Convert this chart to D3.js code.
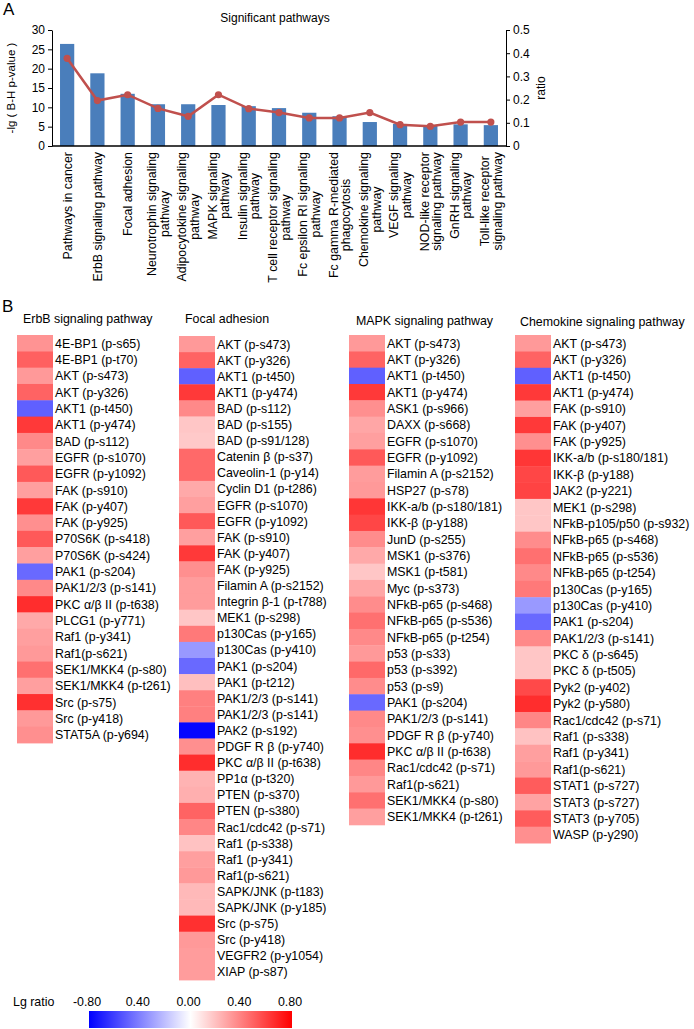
<!DOCTYPE html>
<html><head><meta charset="utf-8">
<script src="https://cdn.jsdelivr.net/npm/d3@7"></script>
<style>
body{margin:0;background:#fff}
svg{display:block}
text{font-family:"Liberation Sans",Arial,sans-serif;fill:#000}
</style>
</head><body>
<svg id="chart" width="694" height="1029"></svg>
<script>
// ---------- Panel A data ----------
const pathwayLabels = [
  ["Pathways in cancer"],
  ["ErbB signaling pathway"],
  ["Focal adhesion"],
  ["Neurotrophin signaling","pathway"],
  ["Adipocytokine signaling","pathway"],
  ["MAPK signaling","pathway"],
  ["Insulin signaling","pathway"],
  ["T cell receptor signaling","pathway"],
  ["Fc epsilon RI signaling","pathway"],
  ["Fc gamma R-mediated","phagocytosis"],
  ["Chemokine signaling","pathway"],
  ["VEGF signaling","pathway"],
  ["NOD-like receptor","signaling pathway"],
  ["GnRH signaling","pathway"],
  ["Toll-like receptor","signaling pathway"]
];
const negLogP = [26.4, 18.8, 13.5, 10.8, 10.8, 10.6, 10.3, 9.8, 8.6, 7.7, 6.2, 5.7, 5.3, 5.6, 5.4];
const ratios  = [0.378, 0.196, 0.221, 0.162, 0.128, 0.221, 0.161, 0.144, 0.121, 0.121, 0.144, 0.092, 0.085, 0.103, 0.103];
const leftTicks  = [0, 5, 10, 15, 20, 25, 30];
const rightTicks = [0, 0.1, 0.2, 0.3, 0.4, 0.5];

// ---------- Panel B data ----------
const erbbGenes = ["4E-BP1 (p-s65)","4E-BP1 (p-t70)","AKT (p-s473)","AKT (p-y326)","AKT1 (p-t450)","AKT1 (p-y474)","BAD (p-s112)","EGFR (p-s1070)","EGFR (p-y1092)","FAK (p-s910)","FAK (p-y407)","FAK (p-y925)","P70S6K (p-s418)","P70S6K (p-s424)","PAK1 (p-s204)","PAK1/2/3 (p-s141)","PKC α/β II (p-t638)","PLCG1 (p-y771)","Raf1 (p-y341)","Raf1(p-s621)","SEK1/MKK4 (p-s80)","SEK1/MKK4 (p-t261)","Src (p-s75)","Src (p-y418)","STAT5A (p-y694)"];
const erbbValues = [0.34,0.50,0.32,0.49,-0.50,0.62,0.37,0.30,0.52,0.30,0.62,0.35,0.52,0.30,-0.47,0.37,0.66,0.27,0.30,0.32,0.45,0.30,0.65,0.32,0.35];

const focalGenes = ["AKT (p-s473)","AKT (p-y326)","AKT1 (p-t450)","AKT1 (p-y474)","BAD (p-s112)","BAD (p-s155)","BAD (p-s91/128)","Catenin β (p-s37)","Caveolin-1 (p-y14)","Cyclin D1 (p-t286)","EGFR (p-s1070)","EGFR (p-y1092)","FAK (p-s910)","FAK (p-y407)","FAK (p-y925)","Filamin A (p-s2152)","Integrin β-1 (p-t788)","MEK1 (p-s298)","p130Cas (p-y165)","p130Cas (p-y410)","PAK1 (p-s204)","PAK1 (p-t212)","PAK1/2/3 (p-s141)","PAK1/2/3 (p-s141)","PAK2 (p-s192)","PDGF R β (p-y740)","PKC α/β II (p-t638)","PP1α (p-t320)","PTEN (p-s370)","PTEN (p-s380)","Rac1/cdc42 (p-s71)","Raf1 (p-s338)","Raf1 (p-y341)","Raf1(p-s621)","SAPK/JNK (p-t183)","SAPK/JNK (p-y185)","Src (p-s75)","Src (p-y418)","VEGFR2 (p-y1054)","XIAP (p-s87)"];
const focalValues = [0.32,0.49,-0.50,0.62,0.37,0.18,0.17,0.47,0.47,0.27,0.30,0.52,0.30,0.62,0.35,0.31,0.31,0.18,0.42,-0.32,-0.47,0.20,0.40,0.40,-0.78,0.35,0.66,0.24,0.25,0.49,0.38,0.19,0.30,0.32,0.22,0.22,0.65,0.32,0.31,0.31];

const mapkGenes = ["AKT (p-s473)","AKT (p-y326)","AKT1 (p-t450)","AKT1 (p-y474)","ASK1 (p-s966)","DAXX (p-s668)","EGFR (p-s1070)","EGFR (p-y1092)","Filamin A (p-s2152)","HSP27 (p-s78)","IKK-a/b (p-s180/181)","IKK-β (p-y188)","JunD (p-s255)","MSK1 (p-s376)","MSK1 (p-t581)","Myc (p-s373)","NFkB-p65 (p-s468)","NFkB-p65 (p-s536)","NFkB-p65 (p-t254)","p53 (p-s33)","p53 (p-s392)","p53 (p-s9)","PAK1 (p-s204)","PAK1/2/3 (p-s141)","PDGF R β (p-y740)","PKC α/β II (p-t638)","Rac1/cdc42 (p-s71)","Raf1(p-s621)","SEK1/MKK4 (p-s80)","SEK1/MKK4 (p-t261)"];
const mapkValues = [0.32,0.49,-0.50,0.62,0.35,0.28,0.30,0.52,0.31,0.32,0.63,0.58,0.36,0.27,0.18,0.28,0.36,0.45,0.37,0.32,0.47,0.36,-0.47,0.37,0.35,0.66,0.38,0.32,0.45,0.30];

const chemoGenes = ["AKT (p-s473)","AKT (p-y326)","AKT1 (p-t450)","AKT1 (p-y474)","FAK (p-s910)","FAK (p-y407)","FAK (p-y925)","IKK-a/b (p-s180/181)","IKK-β (p-y188)","JAK2 (p-y221)","MEK1 (p-s298)","NFkB-p105/p50 (p-s932)","NFkB-p65 (p-s468)","NFkB-p65 (p-s536)","NFkB-p65 (p-t254)","p130Cas (p-y165)","p130Cas (p-y410)","PAK1 (p-s204)","PAK1/2/3 (p-s141)","PKC δ (p-s645)","PKC δ (p-t505)","Pyk2 (p-y402)","Pyk2 (p-y580)","Rac1/cdc42 (p-s71)","Raf1 (p-s338)","Raf1 (p-y341)","Raf1(p-s621)","STAT1 (p-s727)","STAT3 (p-s727)","STAT3 (p-y705)","WASP (p-y290)"];
const chemoValues = [0.32,0.49,-0.50,0.62,0.30,0.62,0.35,0.63,0.58,0.59,0.18,0.18,0.36,0.45,0.37,0.42,-0.32,-0.47,0.37,0.18,0.18,0.57,0.66,0.38,0.19,0.30,0.32,0.51,0.29,0.51,0.35];

const legendTicks = [-0.8, -0.4, 0, 0.4, 0.8];
const legendTickLabels = ["-0.80","0.40","0.00","0.40","0.80"];

// ---------- Drawing ----------
const svg = d3.select("#chart");
const FONT = 12.4;

// Panel A
const pA = {left:52, right:506, top:30, bottom:146};
const x = d3.scaleBand().domain(d3.range(pathwayLabels.length))
  .range([pA.left, pA.right]).paddingInner(0.53).paddingOuter(0.265);
const yL = d3.scaleLinear().domain([0,30]).range([pA.bottom, pA.top]);
const yR = d3.scaleLinear().domain([0,0.5]).range([pA.bottom, pA.top]);

svg.append("text").attr("x",3).attr("y",15).style("font-size","17px").text("A");
svg.append("text").attr("x",(pA.left+pA.right)/2 - 4).attr("y",22)
  .attr("text-anchor","middle").style("font-size","12px").text("Significant pathways");

const gA = svg.append("g");
gA.selectAll("rect.bar").data(negLogP).join("rect")
  .attr("class","bar")
  .attr("x",(d,i)=>x(i)).attr("width",x.bandwidth())
  .attr("y",d=>yL(d)).attr("height",d=>yL(0)-yL(d))
  .attr("fill","#4a7ebb");

const axL = gA.append("g").attr("transform",`translate(${pA.left},0)`)
  .call(d3.axisLeft(yL).tickValues(leftTicks).tickSize(4).tickSizeOuter(0).tickFormat(d3.format("d")));
const axR = gA.append("g").attr("transform",`translate(${pA.right},0)`)
  .call(d3.axisRight(yR).tickValues(rightTicks).tickSize(4).tickSizeOuter(0)
    .tickFormat(d=> d===0 ? "0" : d3.format(".1f")(d)));
[axL, axR].forEach(a=>{
  a.selectAll("text").style("font-size","12px").style("font-family",'"Liberation Sans",Arial,sans-serif');
  a.selectAll("line,path").attr("stroke","#000");
});
gA.append("line").attr("x1",pA.left).attr("x2",pA.right).attr("y1",pA.bottom).attr("y2",pA.bottom)
  .attr("stroke","#000").attr("stroke-width",1.5);

const line = d3.line().x((d,i)=>x(i)+x.bandwidth()/2).y(d=>yR(d));
gA.append("path").datum(ratios).attr("d",line)
  .attr("fill","none").attr("stroke","#c0504d").attr("stroke-width",2.5);
gA.selectAll("circle.pt").data(ratios).join("circle").attr("class","pt")
  .attr("cx",(d,i)=>x(i)+x.bandwidth()/2).attr("cy",d=>yR(d)).attr("r",3.6)
  .attr("fill","#c0504d");

svg.append("text").attr("transform",`translate(15,${(pA.top+pA.bottom)/2}) rotate(-90)`)
  .attr("text-anchor","middle").style("font-size","11.5px").text("-lg ( B-H p-value )");
svg.append("text").attr("transform",`translate(545,${(pA.top+pA.bottom)/2}) rotate(-90)`)
  .attr("text-anchor","middle").style("font-size","12px").text("ratio");

// category labels (rotated, block end-aligned at axis, lines centered)
const labelTop = pA.bottom + 6;
const lineGap = 12.5;
pathwayLabels.forEach((lines,i)=>{
  const cx = x(i) + x.bandwidth()/2;
  const g = svg.append("g").attr("transform",`translate(${cx},${labelTop}) rotate(-90)`);
  const ts = lines.map((t,j)=> g.append("text").style("font-size",FONT+"px").text(t));
  const widths = ts.map(t=>t.node().getComputedTextLength());
  const L = d3.max(widths);
  const n = lines.length;
  ts.forEach((t,j)=>{
    t.attr("text-anchor","middle").attr("x",-L/2)
     .attr("y",(j-(n-1)/2)*lineGap + FONT*0.36);
  });
});

// Panel B
svg.append("text").attr("x",2).attr("y",312).style("font-size","17px").text("B");
const color = d3.scaleLinear().domain([-0.8,0,0.8]).range(["#0000ff","#ffffff","#ff0000"]).clamp(true);
const columns = [
  {title:"ErbB signaling pathway", genes:erbbGenes, values:erbbValues, cellX:17, titleX:23, titleY:323, top:335, rowH:16.32},
  {title:"Focal adhesion", genes:focalGenes, values:focalValues, cellX:179, titleX:185, titleY:323, top:336, rowH:16.1},
  {title:"MAPK signaling pathway", genes:mapkGenes, values:mapkValues, cellX:349, titleX:356, titleY:325, top:335, rowH:16.33},
  {title:"Chemokine signaling pathway", genes:chemoGenes, values:chemoValues, cellX:515, titleX:520, titleY:326, top:335, rowH:16.39}
];
const cellW = 36;
columns.forEach(c=>{
  const g = svg.append("g");
  g.append("text").attr("x",c.titleX).attr("y",c.titleY).style("font-size",FONT+"px").text(c.title);
  const y = d3.scaleBand().domain(d3.range(c.genes.length))
    .range([c.top, c.top + c.genes.length*c.rowH]);
  g.selectAll("rect").data(c.values).join("rect")
    .attr("x",c.cellX).attr("width",cellW)
    .attr("y",(d,i)=>y(i)).attr("height",y.bandwidth()+0.4)
    .attr("fill",d=>color(d));
  g.selectAll("text.lab").data(c.genes).join("text").attr("class","lab")
    .attr("x",c.cellX+cellW+2).attr("y",(d,i)=>y(i)+y.bandwidth()/2 + FONT*0.36)
    .style("font-size",FONT+"px").text(d=>d);
});

// Legend
const lg = {x0:89, x1:292, y:1011, h:17};
const defs = svg.append("defs");
const grad = defs.append("linearGradient").attr("id","lgGrad");
const lx = d3.scaleLinear().domain([-0.8,0.8]).range([lg.x0, lg.x1]);
[-0.8,-0.4,0,0.4,0.8].forEach(v=>{
  grad.append("stop").attr("offset",((v+0.8)/1.6*100)+"%").attr("stop-color",color(v));
});
svg.append("rect").attr("x",lg.x0).attr("y",lg.y).attr("width",lg.x1-lg.x0).attr("height",lg.h)
  .attr("fill","url(#lgGrad)");
svg.append("text").attr("x",13).attr("y",1006).style("font-size",FONT+"px").text("Lg ratio");
svg.selectAll("text.lt").data(legendTicks).join("text").attr("class","lt")
  .attr("x",(d,i)=>lx(d) - 2).attr("y",1006).attr("text-anchor","middle")
  .style("font-size",FONT+"px").text((d,i)=>legendTickLabels[i]);
</script>
</body></html>
